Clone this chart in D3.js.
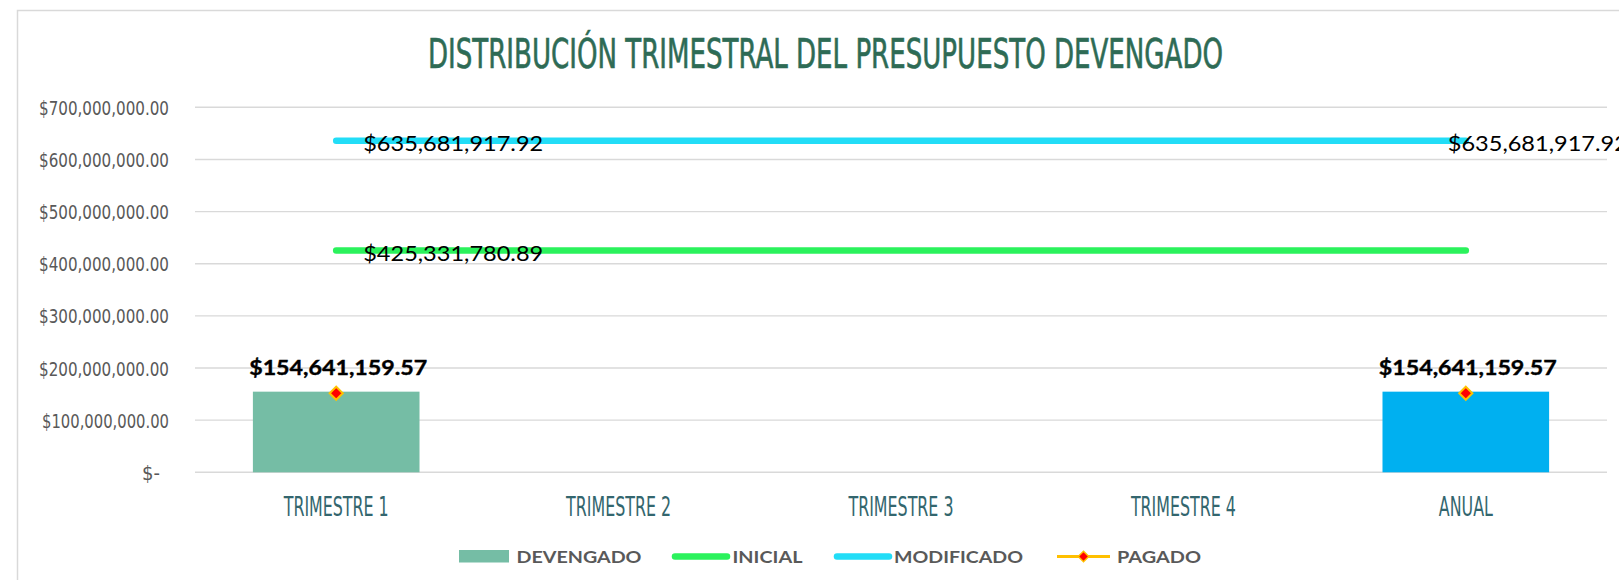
<!DOCTYPE html>
<html>
<head>
<meta charset="utf-8">
<script src="https://cdn.jsdelivr.net/npm/d3@7"></script>
<style>
  body { margin: 0; background: #fff; }
  svg { display: block; }
</style>
</head>
<body>
<div class="chart"></div>
<script>
var categories = ['TRIMESTRE 1', 'TRIMESTRE 2', 'TRIMESTRE 3', 'TRIMESTRE 4', 'ANUAL'];
var devengado = [154641159.57, null, null, null, 154641159.57];
var inicial = [425331780.89, 425331780.89, 425331780.89, 425331780.89, 425331780.89];
var modificado = [635681917.92, 635681917.92, 635681917.92, 635681917.92, 635681917.92];
var pagado = [151600000, null, null, null, 151600000];
var yTicks = [0, 100000000, 200000000, 300000000, 400000000, 500000000, 600000000, 700000000];

var width = 1619, height = 580;
var condensed = '"DejaVu Sans Condensed", "Liberation Sans Narrow", "Arial Narrow", sans-serif';
var bodyFont = 'Lato, "Open Sans", sans-serif';

var svg = d3.select('.chart').append('svg')
  .attr('width', width)
  .attr('height', height);

// chart frame
svg.append('rect')
  .attr('x', 17.5).attr('y', 10.5)
  .attr('width', 1700).attr('height', 700)
  .attr('fill', '#fff')
  .attr('stroke', '#d9d9d9')
  .attr('stroke-width', 1.5);

var x = d3.scaleBand().domain(categories).range([195, 1607]).padding(0);
var y = d3.scaleLinear().domain([0, 700000000]).range([472.3, 107.3]);
var cx = function(i) { return x(categories[i]) + x.bandwidth() / 2; };
var money = d3.format('$,.2f');

// title
svg.append('text')
  .attr('x', 825.5).attr('y', 67.5)
  .attr('text-anchor', 'middle')
  .attr('font-family', condensed)
  .attr('font-size', 40)
  .attr('fill', '#2e6b55')
  .attr('stroke', '#2e6b55')
  .attr('stroke-width', 0.6)
  .attr('textLength', 795)
  .attr('lengthAdjust', 'spacingAndGlyphs')
  .text('DISTRIBUCIÓN TRIMESTRAL DEL PRESUPUESTO DEVENGADO');

// grid
svg.append('g').selectAll('line').data(yTicks).enter().append('line')
  .attr('x1', 195).attr('x2', 1607)
  .attr('y1', function(d) { return y(d); })
  .attr('y2', function(d) { return y(d); })
  .attr('stroke', '#d9d9d9')
  .attr('stroke-width', 1.4);

// y axis labels
var yAxis = svg.append('g')
  .attr('transform', 'translate(180,0)')
  .call(d3.axisLeft(y).tickValues(yTicks).tickSize(0).tickPadding(11)
    .tickFormat(function(d) { return d === 0 ? '$-' : money(d); }));
yAxis.select('.domain').remove();
yAxis.selectAll('text')
  .attr('font-family', condensed)
  .attr('font-size', 20)
  .attr('fill', '#595959')
  .attr('dy', '0.35em');
yAxis.selectAll('text').filter(function(d) { return d !== 0; })
  .attr('textLength', function(d) { return d === 100000000 ? 127 : 130; })
  .attr('lengthAdjust', 'spacingAndGlyphs');
yAxis.selectAll('text').filter(function(d) { return d === 0; })
  .attr('transform', 'translate(-9,0)');

// x axis labels
var xAxis = svg.append('g')
  .attr('transform', 'translate(0,472.3)')
  .call(d3.axisBottom(x).tickSize(0).tickPadding(0));
xAxis.select('.domain').remove();
var xl = xAxis.selectAll('text')
  .attr('font-family', condensed)
  .attr('font-size', 27)
  .attr('fill', '#33666e')
  .attr('y', 44)
  .attr('dy', 0);
var k = 105 / xl.node().getComputedTextLength();
xl.each(function() {
  var n = this.getComputedTextLength();
  d3.select(this).attr('textLength', n * k).attr('lengthAdjust', 'spacingAndGlyphs');
});

// bars + labels
var barW = x.bandwidth() * 0.59;
var barG = svg.append('g');
devengado.forEach(function(d, i) {
  if (d === null) return;
  barG.append('rect')
    .attr('x', cx(i) - barW / 2)
    .attr('y', y(d))
    .attr('width', barW)
    .attr('height', y(0) - y(d))
    .attr('fill', i === 4 ? '#00b0f0' : '#75bda5');
  barG.append('text')
    .attr('x', cx(i) + 2)
    .attr('y', y(d) - 16.5)
    .attr('text-anchor', 'middle')
    .attr('font-family', bodyFont)
    .attr('font-weight', 'bold')
    .attr('font-size', 21)
    .attr('fill', '#000')
    .attr('stroke', '#000')
    .attr('stroke-width', 0.4)
    .attr('textLength', 178)
    .attr('lengthAdjust', 'spacingAndGlyphs')
    .text(money(d));
});

// lines
var line = d3.line()
  .x(function(d, i) { return cx(i); })
  .y(function(d) { return y(d); });

svg.append('path').datum(inicial)
  .attr('d', line)
  .attr('fill', 'none')
  .attr('stroke', '#2bf25c')
  .attr('stroke-width', 6.5)
  .attr('stroke-linecap', 'round');

svg.append('path').datum(modificado)
  .attr('d', line)
  .attr('fill', 'none')
  .attr('stroke', '#22ddf7')
  .attr('stroke-width', 6.5)
  .attr('stroke-linecap', 'round');

// line labels
var lineLabel = function(v, lx) {
  svg.append('text')
    .attr('x', lx)
    .attr('y', y(v) + 10)
    .attr('font-family', bodyFont)
    .attr('font-size', 21.5)
    .attr('fill', '#000')
    .attr('textLength', 180)
    .attr('lengthAdjust', 'spacingAndGlyphs')
    .text(money(v));
};
lineLabel(modificado[0], cx(0) + 27);
lineLabel(inicial[0], cx(0) + 27);
lineLabel(modificado[4], cx(4) - 18);

// pagado markers
var diamond = d3.symbol().type(d3.symbolDiamond2).size(110);
pagado.forEach(function(d, i) {
  if (d === null) return;
  svg.append('path')
    .attr('d', diamond)
    .attr('transform', 'translate(' + cx(i) + ',' + y(d) + ')')
    .attr('fill', '#ff0000')
    .attr('stroke', '#ffc000')
    .attr('stroke-width', 2);
});

// legend
var lg = svg.append('g');
var legendText = function(tx, label, w) {
  lg.append('text')
    .attr('x', tx).attr('y', 562.5)
    .attr('font-family', bodyFont)
    .attr('font-weight', 'bold')
    .attr('font-size', 17.5)
    .attr('fill', '#595959')
    .attr('textLength', w)
    .attr('lengthAdjust', 'spacingAndGlyphs')
    .text(label);
};
lg.append('rect').attr('x', 459).attr('y', 550).attr('width', 50).attr('height', 12.5).attr('fill', '#75bda5');
legendText(516.5, 'DEVENGADO', 125);
lg.append('line').attr('x1', 675).attr('x2', 727).attr('y1', 556.5).attr('y2', 556.5)
  .attr('stroke', '#2bf25c').attr('stroke-width', 6.5).attr('stroke-linecap', 'round');
legendText(732.5, 'INICIAL', 70);
lg.append('line').attr('x1', 837).attr('x2', 889).attr('y1', 556.5).attr('y2', 556.5)
  .attr('stroke', '#22ddf7').attr('stroke-width', 6.5).attr('stroke-linecap', 'round');
legendText(894, 'MODIFICADO', 129);
lg.append('line').attr('x1', 1057).attr('x2', 1110).attr('y1', 556.5).attr('y2', 556.5)
  .attr('stroke', '#ffc000').attr('stroke-width', 3);
lg.append('path').attr('d', d3.symbol().type(d3.symbolDiamond2).size(70))
  .attr('transform', 'translate(1083.5,556.5)')
  .attr('fill', '#ff0000').attr('stroke', '#ffc000').attr('stroke-width', 1.5);
legendText(1117, 'PAGADO', 84);
</script>
</body>
</html>
